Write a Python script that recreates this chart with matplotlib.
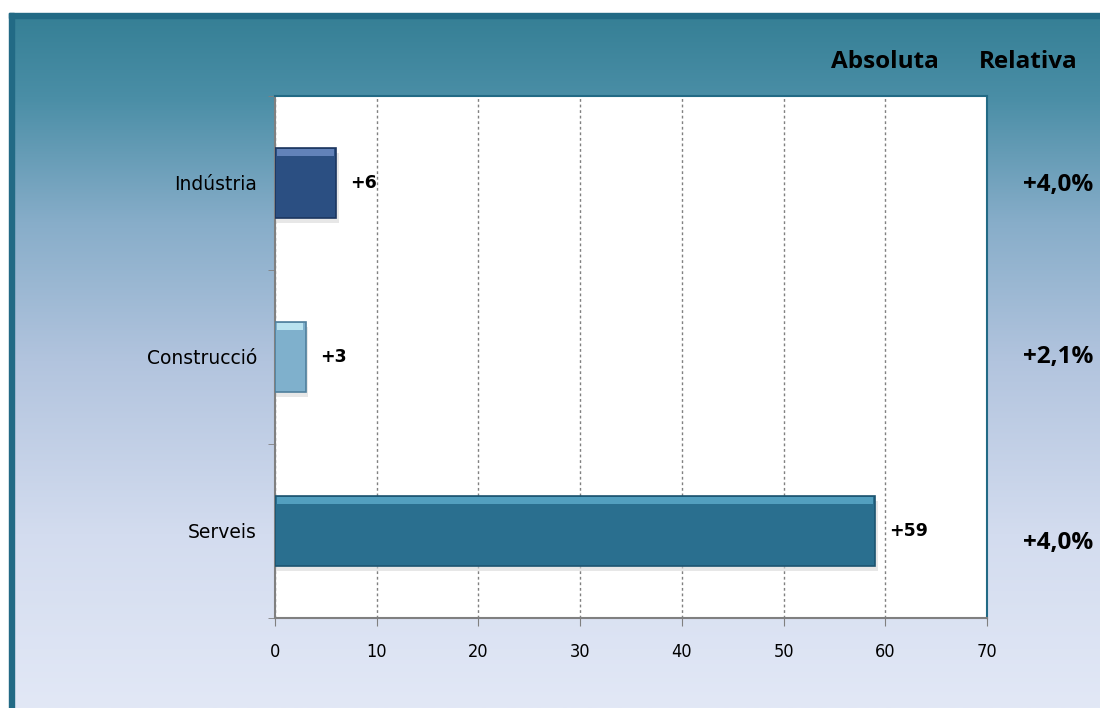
import numpy as np
import matplotlib
matplotlib.use("Agg")
import matplotlib.pyplot as plt
from matplotlib.patches import Rectangle
from matplotlib.colors import LinearSegmentedColormap

categories = ["Indústria", "Construcció", "Serveis"]
absolute = [6, 3, 59]
abs_labels = ["+6", "+3", "+59"]
relative_labels = ["+4,0%", "+2,1%", "+4,0%"]
bar_colors = ["#2b4f82", "#7fb0cc", "#2a6f8f"]
bar_edges = ["#1c3660", "#4f7f9c", "#1c5470"]
bar_tops = ["#6c8cc4", "#c4ecf6", "#5aa8c8"]
xticks = [0, 10, 20, 30, 40, 50, 60, 70]

W, H = 1100, 708
fig = plt.figure(figsize=(W / 100, H / 100), dpi=100)
fig.patch.set_facecolor("white")

# background gradient
bg = fig.add_axes([9 / W, 0, 1 - 9 / W, 1 - 13 / H])
bg.set_axis_off()
cmap = LinearSegmentedColormap.from_list(
    "bg", [(0.0, "#357f95"), (0.12, "#4a8ea6"), (0.3, "#87adc9"),
           (0.5, "#b2c4de"), (0.75, "#d3dcef"), (1.0, "#e2e8f6")])
grad = np.linspace(0, 1, 256).reshape(-1, 1)
bg.imshow(grad, aspect="auto", cmap=cmap, extent=[0, 1, 0, 1], origin="upper")
bg.set_xlim(0, 1)
bg.set_ylim(0, 1)
bg.add_patch(Rectangle((0, 0), 5 / (W - 9), 1, color="#226a85", transform=bg.transAxes, clip_on=False))
bg.add_patch(Rectangle((0, 1 - 5 / (H - 13)), 1, 5 / (H - 13), color="#226a85", transform=bg.transAxes, clip_on=False))

ax = fig.add_axes([275 / W, 1 - 618 / H, (987 - 275) / W, (618 - 96) / H])
ax.set_facecolor("white")
ypos = np.arange(len(categories))[::-1]
bh = 0.4
for y, v in zip(ypos, absolute):
    ax.barh(y - 0.03, v + 0.25, height=bh, left=0, color="#d8d8d8", alpha=0.6, zorder=2)
ax.barh(ypos, absolute, height=bh, color=bar_colors, edgecolor=bar_edges,
        linewidth=1.2, zorder=3)
for y, v, c in zip(ypos, absolute, bar_tops):
    ax.barh(y + bh / 2 - 0.025, v - 0.35, height=0.04, left=0.15, color=c, alpha=0.85, zorder=4)

for y, v, lab in zip(ypos, absolute, abs_labels):
    ax.text(v + 1.4, y, lab, va="center", ha="left", fontsize=12.5, fontweight="bold",
            family="DejaVu Sans", color="black", zorder=5)

ax.set_xlim(0, 70)
ax.set_ylim(-0.5, 2.5)
ax.set_xticks(xticks)
ax.set_xticklabels([str(t) for t in xticks], fontsize=13, family="DejaVu Sans",
                   fontstretch="condensed", color="black")
ax.xaxis.grid(True, linestyle=(0, (2, 2)), color="#808080", linewidth=1, zorder=1)
ax.set_axisbelow(True)
ax.set_yticks(ypos)
ax.set_yticklabels(categories, fontsize=13.5, family="DejaVu Sans", color="black")
ax.set_yticks([-0.5, 0.5, 1.5, 2.5], minor=True)
ax.tick_params(axis="y", which="major", length=0, pad=13)
ax.tick_params(axis="y", which="minor", length=5, color="#808080", direction="out")
ax.tick_params(axis="x", length=6, color="#808080", direction="out", pad=12)
for s in ["left", "bottom"]:
    ax.spines[s].set_color("#808080")
    ax.spines[s].set_linewidth(1.5)
for s in ["top", "right"]:
    ax.spines[s].set_color("#226a85")
    ax.spines[s].set_linewidth(1.5)

hdr_font = dict(ha="center", va="center", fontsize=17.5, fontweight="bold",
                family="Open Sans", color="black")
fig.text(885 / W, 1 - 62 / H, "Absoluta", **hdr_font)
fig.text(1028 / W, 1 - 62 / H, "Relativa", **hdr_font)
rel_offsets_px = [-2, 0, -12]
for y, lab, off in zip(ypos, relative_labels, rel_offsets_px):
    yd = ax.transData.transform((0, y))[1]
    fig.text(1058 / W, (yd + off) / H, lab, **hdr_font)

fig.savefig("out.png", dpi=100)
